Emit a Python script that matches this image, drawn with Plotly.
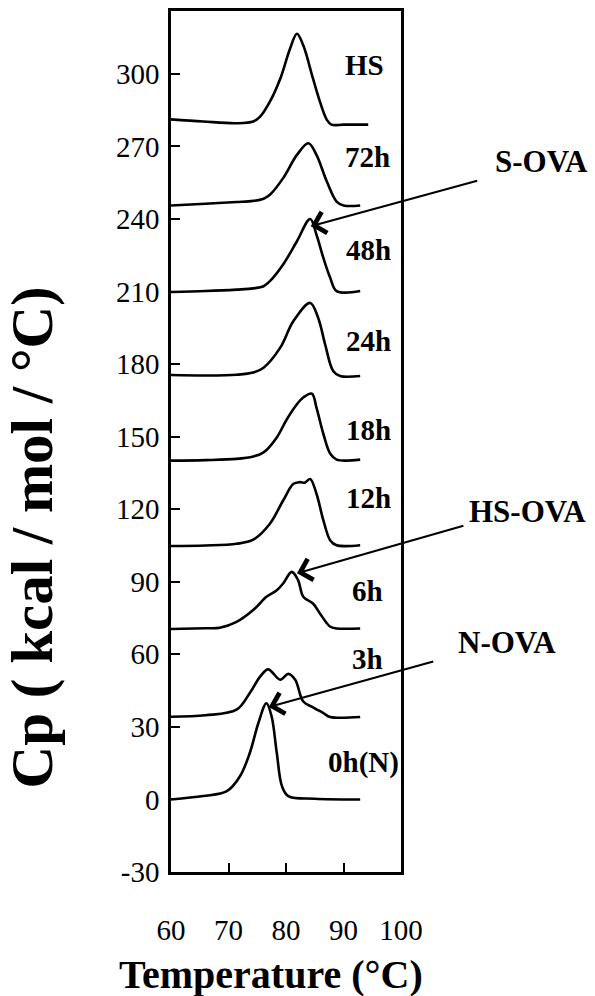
import plotly.graph_objects as go

# DSC thermograms of ovalbumin at successive storage times (offset stack)
temp_HS = [60, 65.6, 71.4, 74.3, 75.5, 77.2, 79.0, 80.7, 81.9, 83.0, 84.7, 85.9, 87.1, 87.9, 90.0, 94.3]
cp_HS = [281.2, 280.3, 279.6, 280.3, 282.3, 288.5, 298.0, 310.4, 316.6, 311.8, 298.0, 288.5, 281.0, 279.0, 279.0, 279.0]

temp_72h = [60, 66, 71.4, 74.3, 76.1, 77.2, 79.5, 81.9, 83.9, 85.3, 87.1, 88.8, 90.0, 92.9]
cp_72h = [245.6, 246.3, 247.0, 247.5, 248.4, 250.0, 256.9, 266.5, 271.3, 266.5, 255.5, 247.2, 245.6, 245.6]

temp_48h = [60, 66, 71.4, 74.3, 76.1, 77.2, 79.5, 81.9, 84.2, 85.3, 86.5, 87.7, 88.8, 92.9]
cp_48h = [209.8, 210.2, 210.8, 211.3, 212.2, 214.3, 221.2, 230.8, 240.0, 233.5, 223.9, 215.6, 210.2, 210.2]

temp_24h = [60, 66, 71.4, 74.3, 76.1, 79.0, 81.3, 84.2, 85.6, 86.8, 88.2, 89.4, 92.9]
cp_24h = [175.5, 175.3, 175.6, 176.5, 178.5, 186.8, 197.8, 205.3, 199.1, 188.2, 177.2, 175.1, 175.1]

temp_18h = [60, 66, 71.4, 74.3, 76.1, 78.4, 80.1, 81.9, 83.0, 84.5, 85.3, 86.5, 87.7, 88.8, 92.9]
cp_18h = [140.1, 140.3, 140.8, 141.8, 143.5, 149.7, 157.0, 163.4, 166.2, 167.8, 162.0, 151.1, 142.9, 140.5, 140.5]

temp_12h = [60, 66, 71.4, 74.3, 77.2, 79.5, 81.3, 82.4, 83.3, 84.2, 85.3, 86.5, 87.7, 88.8, 92.9]
cp_12h = [104.8, 105.0, 105.7, 107.4, 114.0, 123.6, 130.5, 131.2, 131.0, 132.5, 126.4, 115.4, 107.1, 105.1, 105.1]

temp_6h = [60, 66, 68.5, 71.4, 74.3, 76.6, 78.4, 79.5, 81.0, 82.1, 83.0, 84.7, 85.9, 87.7, 88.8, 92.9]
cp_6h = [70.5, 70.8, 71.0, 73.4, 78.3, 83.8, 86.5, 89.3, 94.1, 90.7, 83.8, 81.0, 76.9, 71.4, 70.7, 70.7]

temp_3h = [60, 66, 71.4, 73.7, 75.5, 76.9, 79.0, 80.4, 81.6, 83.0, 84.7, 86.5, 87.7, 92.9]
cp_3h = [34.2, 34.8, 37.1, 44.0, 50.8, 53.8, 49.5, 51.9, 49.5, 40.5, 38.1, 35.7, 34.1, 34.1]

temp_0h = [60, 65.6, 69.7, 72.0, 73.7, 75.2, 76.6, 77.5, 78.4, 79.3, 80.4, 85.0, 92.9]
cp_0h = [0.0, 1.4, 3.4, 9.6, 19.2, 31.6, 39.8, 34.3, 19.2, 5.5, 1.4, 0.3, 0.0]

curve_names = ["HS", "72h", "48h", "24h", "18h", "12h", "6h", "3h", "0h(N)"]
curve_temps = [temp_HS, temp_72h, temp_48h, temp_24h, temp_18h, temp_12h, temp_6h, temp_3h, temp_0h]
curve_cps = [cp_HS, cp_72h, cp_48h, cp_24h, cp_18h, cp_12h, cp_6h, cp_3h, cp_0h]

# label anchor (temperature, Cp) for each trace name
label_T = [93.6, 94.1, 94.3, 94.3, 94.3, 94.3, 94.1, 94.1, 93.4]
label_Cp = [303.5, 265.7, 227.3, 189.4, 152.9, 124.7, 86.1, 58.1, 15.3]

y_ticks = [-30, 0, 30, 60, 90, 120, 150, 180, 210, 240, 270, 300]
y_tick_text = ["-30", "0", "30", "60", "90", "120", "150", "180", "210", "240", "270", "300"]
x_ticks = [60, 70, 80, 90, 100]
x_tick_text = ["60", "70", "80", "90", "100"]

# marked peaks: (name, tip temperature, tip Cp)
peak_names = ["S-OVA", "HS-OVA", "N-OVA"]
peak_T = [84.3, 81.9, 77.0]
peak_Cp = [237.0, 93.5, 38.2]

FONT = "Liberation Serif, Times New Roman, serif"

fig = go.Figure()
for name, t, c in zip(curve_names, curve_temps, curve_cps):
    fig.add_trace(go.Scatter(
        x=t, y=c, mode="lines", name=name,
        line=dict(color="black", width=2.6, shape="spline", smoothing=1.0),
        hoverinfo="skip",
    ))

annotations = []
for name, t, c in zip(curve_names, label_T, label_Cp):
    annotations.append(dict(
        x=t, y=c, xref="x", yref="y", text="<b>%s</b>" % name, showarrow=False,
        font=dict(family=FONT, size=29, color="black"),
        xanchor="center", yanchor="middle",
    ))

# arrows pointing at peaks, with tails offset in pixels
tail_offsets = [(168, -46), (168, -48), (166, -46)]
text_pos = [(1.609, 0.8252), (1.55, 0.4190), (1.463, 0.2662)]
for name, t, c, (dx, dy), (px, py) in zip(peak_names, peak_T, peak_Cp, tail_offsets, text_pos):
    annotations.append(dict(
        x=t, y=c, xref="x", yref="y", text="", showarrow=True,
        ax=dx, ay=dy, axref="pixel", ayref="pixel",
        arrowhead=4, arrowsize=2.1, arrowwidth=2, arrowcolor="black",
    ))
    annotations.append(dict(
        x=px, y=py, xref="paper", yref="paper", text="<b>%s</b>" % name,
        showarrow=False, font=dict(family=FONT, size=31, color="black"),
        xanchor="center", yanchor="middle",
    ))

# axis titles
annotations.append(dict(
    x=-0.603, y=0.389, xref="paper", yref="paper", textangle=-90,
    text="<b>Cp ( kcal / mol / °C)</b>", showarrow=False,
    font=dict(family=FONT, size=59, color="black"),
    xanchor="center", yanchor="middle",
))
annotations.append(dict(
    x=0.435, y=-0.119, xref="paper", yref="paper",
    text="<b>Temperature (°C)</b>", showarrow=False,
    font=dict(family=FONT, size=40, color="black"),
    xanchor="center", yanchor="middle",
))

axis_common = dict(
    showline=True, linecolor="black", linewidth=2.5, mirror=True,
    ticks="inside", ticklen=9, tickwidth=2, tickcolor="black",
    showgrid=False, zeroline=False,
    tickfont=dict(family=FONT, size=29, color="black"),
)

fig.update_xaxes(range=[60, 100], tickvals=x_ticks, ticktext=x_tick_text,
                 ticklabelstandoff=30, **axis_common)
fig.update_yaxes(range=[-30, 326], tickvals=y_ticks, ticktext=y_tick_text,
                 ticklabelstandoff=3, **axis_common)

fig.update_layout(
    width=595, height=996,
    margin=dict(l=171, r=194, t=8, b=124),
    paper_bgcolor="white", plot_bgcolor="white",
    showlegend=False, annotations=annotations,
    font=dict(family=FONT, color="black"),
)

fig.write_html("out.html")
